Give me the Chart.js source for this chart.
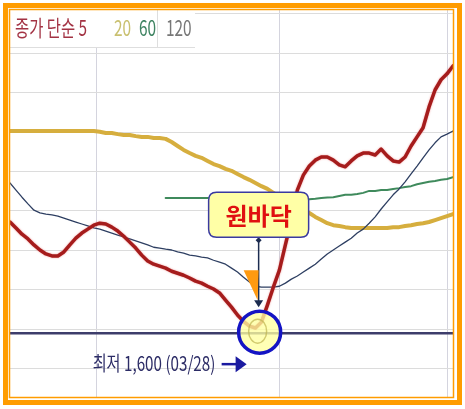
<!DOCTYPE html>
<html lang="ko">
<head>
<meta charset="utf-8">
<script src="https://cdn.jsdelivr.net/npm/chart.js@4.4.0/dist/chart.umd.min.js"></script>
<style>
html, body { margin: 0; padding: 0; background: #fff; }
#wrap { width: 465px; height: 409px; position: relative; }
</style>
</head>
<body>
<div id="wrap"><canvas id="chart"></canvas></div>
<script>
// trading days shown on the chart
const days = Array.from({length: 75}, (_, i) => i);

const seriesNames = ['종가 단순 5', '20', '60', '120'];

const ma5 = [
    1882, 1867, 1851, 1839, 1824, 1811, 1801, 1796, 1796, 1806,
    1824, 1841, 1854, 1864, 1874, 1879, 1877, 1869, 1859, 1846,
    1831, 1816, 1798, 1783, 1775, 1770, 1765, 1757, 1752, 1747,
    1740, 1732, 1727, 1719, 1712, 1702, 1684, 1666, 1646, 1630,
    1618, 1613, 1628, 1671, 1717, 1760, 1824, 1887, 1963, 2001,
    2024, 2039, 2047, 2047, 2039, 2027, 2022, 2037, 2050, 2057,
    2057, 2052, 2067, 2050, 2037, 2034, 2047, 2075, 2098, 2121,
    2174, 2217, 2243, 2258, 2278
];

const ma20 = [
    2113, 2113, 2113, 2113, 2113, 2113, 2113, 2113, 2113, 2113,
    2113, 2113, 2113, 2113, 2113, 2111, 2108, 2108, 2105, 2103,
    2103, 2100, 2098, 2098, 2095, 2095, 2093, 2085, 2075, 2065,
    2057, 2050, 2045, 2037, 2029, 2024, 2017, 2012, 2004, 1996,
    1989, 1981, 1973, 1966, 1956, 1945, 1938, 1930, 1920, 1912,
    1905, 1895, 1887, 1879, 1874, 1872, 1869, 1867, 1867, 1867,
    1867, 1867, 1867, 1867, 1869, 1869, 1872, 1874, 1877, 1879,
    1882, 1887, 1892, 1897, 1902
];

const ma60 = [
    null, null, null, null, null, null, null, null, null, null,
    null, null, null, null, null, null, null, null, null, null,
    null, null, null, null, null, null, 1943, 1943, 1943, 1943,
    1943, 1943, 1943, 1943, 1943, 1943, 1943, 1943, 1943, 1943,
    1943, 1943, 1943, 1943, 1943, 1943, 1942, 1941, 1941, 1940,
    1940, 1941, 1943, 1944, 1945, 1948, 1951, 1951, 1953, 1956,
    1961, 1961, 1963, 1963, 1966, 1968, 1971, 1973, 1978, 1981,
    1984, 1986, 1989, 1991, 1996
];

const ma120 = [
    1981, 1963, 1945, 1928, 1912, 1905, 1902, 1900, 1897, 1892,
    1887, 1882, 1877, 1872, 1867, 1864, 1859, 1854, 1849, 1844,
    1839, 1834, 1829, 1824, 1818, 1816, 1813, 1811, 1806, 1803,
    1798, 1796, 1793, 1791, 1785, 1780, 1775, 1765, 1755, 1742,
    1730, 1719, 1717, 1717, 1717, 1719, 1727, 1737, 1745, 1755,
    1765, 1775, 1788, 1801, 1811, 1821, 1831, 1841, 1854, 1864,
    1879, 1895, 1915, 1933, 1951, 1966, 1984, 2004, 2024, 2045,
    2065, 2083, 2098, 2105, 2113
];

const priceTicks = [1510, 1610, 1710, 1810, 1910, 2010, 2110, 2210, 2310, 2410];
const monthTicks = [14.5, 45.1, 73];

const lowPrice = 1600;
const lowDay = 41.7;
const lowLabel = '최저 1,600 (03/28)';
const calloutText = '원바닥';

function narrowText(ctx, text, x, y, sx) {
    ctx.save();
    ctx.translate(x, y);
    ctx.scale(sx, 1);
    ctx.fillText(text, 0, 0);
    ctx.restore();
}

const overlay = {
    id: 'overlay',
    afterDraw(chart) {
        const ctx = chart.ctx;
        const a = chart.chartArea;
        const xs = chart.scales.x, ys = chart.scales.y;
        const lowY = ys.getPixelForValue(lowPrice);
        const cx = xs.getPixelForValue(lowDay);
        const cy = lowY - 1;
        ctx.save();

        // low price line
        ctx.strokeStyle = '#3d3d6b';
        ctx.lineWidth = 2.5;
        ctx.beginPath();
        ctx.moveTo(a.left, lowY);
        ctx.lineTo(a.right, lowY);
        ctx.stroke();

        // circle round the bottom
        ctx.beginPath();
        ctx.arc(cx, cy, 21, 0, Math.PI * 2);
        ctx.fillStyle = 'rgba(255,255,160,0.78)';
        ctx.fill();
        ctx.strokeStyle = 'rgba(190,180,80,0.7)';
        ctx.lineWidth = 1.5;
        ctx.beginPath();
        ctx.ellipse(cx - 2, cy - 1, 9, 12, 0, 0, Math.PI * 2);
        ctx.stroke();
        ctx.strokeStyle = '#1414c4';
        ctx.lineWidth = 3.5;
        ctx.beginPath();
        ctx.arc(cx, cy, 21, 0, Math.PI * 2);
        ctx.stroke();

        // callout box
        const bx = cx - 51, by = cy - 140, bw = 100, bh = 45, r = 8;
        const lx = cx - 1;
        ctx.strokeStyle = '#1c2c50';
        ctx.lineWidth = 1.5;
        ctx.beginPath();
        ctx.moveTo(lx, by + bh + 3);
        ctx.lineTo(lx, cy - 30);
        ctx.stroke();
        ctx.fillStyle = '#1c2c50';
        ctx.beginPath();
        ctx.moveTo(lx, by + bh);
        ctx.lineTo(lx + 3, by + bh + 3);
        ctx.lineTo(lx, by + bh + 6);
        ctx.lineTo(lx - 3, by + bh + 3);
        ctx.closePath();
        ctx.fill();

        // orange wedge
        ctx.fillStyle = '#ff9a10';
        ctx.beginPath();
        ctx.moveTo(cx - 16, cy - 62);
        ctx.lineTo(cx - 1, cy - 62);
        ctx.lineTo(cx - 2, cy - 32);
        ctx.closePath();
        ctx.fill();

        // arrow head to circle
        ctx.fillStyle = '#1c2c50';
        ctx.beginPath();
        ctx.moveTo(lx - 4.5, cy - 32);
        ctx.lineTo(lx + 4.5, cy - 32);
        ctx.lineTo(lx, cy - 25);
        ctx.closePath();
        ctx.fill();

        ctx.beginPath();
        ctx.moveTo(bx + r, by);
        ctx.lineTo(bx + bw - r, by);
        ctx.quadraticCurveTo(bx + bw, by, bx + bw, by + r);
        ctx.lineTo(bx + bw, by + bh - r);
        ctx.quadraticCurveTo(bx + bw, by + bh, bx + bw - r, by + bh);
        ctx.lineTo(bx + r, by + bh);
        ctx.quadraticCurveTo(bx, by + bh, bx, by + bh - r);
        ctx.lineTo(bx, by + r);
        ctx.quadraticCurveTo(bx, by, bx + r, by);
        ctx.closePath();
        ctx.fillStyle = '#ffffa6';
        ctx.fill();
        ctx.strokeStyle = '#3a3aa0';
        ctx.lineWidth = 1.5;
        ctx.stroke();
        ctx.fillStyle = '#e01010';
        ctx.font = 'bold 24px "Noto Sans CJK KR"';
        ctx.textAlign = 'center';
        ctx.textBaseline = 'middle';
        ctx.fillText(calloutText, bx + bw / 2, by + bh / 2 + 1);

        // low label with arrow
        ctx.fillStyle = '#2c2c66';
        ctx.font = '20px "Noto Sans CJK KR"';
        ctx.textAlign = 'left';
        narrowText(ctx, lowLabel, cx - 167, cy + 31, 0.76);
        ctx.strokeStyle = '#1a1aa0';
        ctx.lineWidth = 2.5;
        ctx.beginPath();
        ctx.moveTo(cx - 38, cy + 32);
        ctx.lineTo(cx - 22, cy + 32);
        ctx.stroke();
        ctx.fillStyle = '#1a1aa0';
        ctx.beginPath();
        ctx.moveTo(cx - 24, cy + 24);
        ctx.lineTo(cx - 13, cy + 32);
        ctx.lineTo(cx - 24, cy + 40);
        ctx.closePath();
        ctx.fill();

        // legend strip
        ctx.fillStyle = '#fff';
        ctx.fillRect(a.left, a.top, 185, 37);
        ctx.strokeStyle = '#dedede';
        ctx.lineWidth = 1;
        ctx.beginPath();
        ctx.moveTo(a.left, a.top + 37.5);
        ctx.lineTo(a.left + 185, a.top + 37.5);
        ctx.moveTo(157.5, a.top);
        ctx.lineTo(157.5, a.top + 37);
        ctx.stroke();
        const colors = ['#a33344', '#c9c070', '#3f8462', '#777777'];
        const lxs = [15, 114, 139, 166];
        ctx.font = '22px "Noto Sans CJK KR"';
        ctx.textBaseline = 'middle';
        seriesNames.forEach((name, i) => {
            ctx.fillStyle = colors[i];
            narrowText(ctx, name, lxs[i], a.top + 18, 0.7);
        });

        // orange frame
        ctx.strokeStyle = '#ff9c00';
        ctx.lineWidth = 5;
        ctx.strokeRect(5.5, 5.5, 454, 397);
        ctx.lineWidth = 1.5;
        ctx.strokeRect(9.5, 9.5, 444, 388);
        ctx.restore();
    }
};

const redGlow = {
    id: 'redGlow',
    beforeDatasetDraw(chart, args) {
        if (args.index === 0) {
            chart.ctx.save();
            chart.ctx.shadowColor = 'rgba(230,90,90,0.6)';
            chart.ctx.shadowBlur = 2;
        }
    },
    afterDatasetDraw(chart, args) {
        if (args.index === 0) chart.ctx.restore();
    }
};

const ctx = document.getElementById('chart').getContext('2d');
const myChart = new Chart(ctx, {
    type: 'line',
    data: {
        labels: days,
        datasets: [{
            label: seriesNames[0],
            data: ma5,
            borderColor: '#a51c1c',
            borderWidth: 3.5
        }, {
            label: seriesNames[3],
            data: ma120,
            borderColor: '#2e3f62',
            borderWidth: 1.3
        }, {
            label: seriesNames[2],
            data: ma60,
            borderColor: '#3f8a5c',
            borderWidth: 2
        }, {
            label: seriesNames[1],
            data: ma20,
            borderColor: '#d6ae3e',
            borderWidth: 4
        }]
    },
    options: {
        responsive: true,
        maintainAspectRatio: false,
        animation: false,
        layout: { padding: { left: 10, top: 10, right: 12, bottom: 12 } },
        elements: {
            point: { radius: 0, hoverRadius: 0 },
            line: { tension: 0, borderJoinStyle: 'round', borderCapStyle: 'round' }
        },
        scales: {
            x: {
                type: 'linear',
                min: 0,
                max: days.length - 1,
                afterBuildTicks: (scale) => { scale.ticks = monthTicks.map(v => ({value: v})); },
                ticks: { display: false },
                border: { display: false },
                grid: { color: '#d4d4de', lineWidth: 1, drawTicks: false }
            },
            y: {
                min: 1438,
                max: 2420,
                afterBuildTicks: (scale) => { scale.ticks = priceTicks.map(v => ({value: v})); },
                ticks: { display: false },
                border: { display: false },
                grid: { color: '#dcdcdc', lineWidth: 1, drawTicks: false }
            }
        },
        plugins: {
            legend: { display: false },
            tooltip: { enabled: false }
        }
    },
    plugins: [redGlow, overlay]
});
</script>
</body>
</html>
